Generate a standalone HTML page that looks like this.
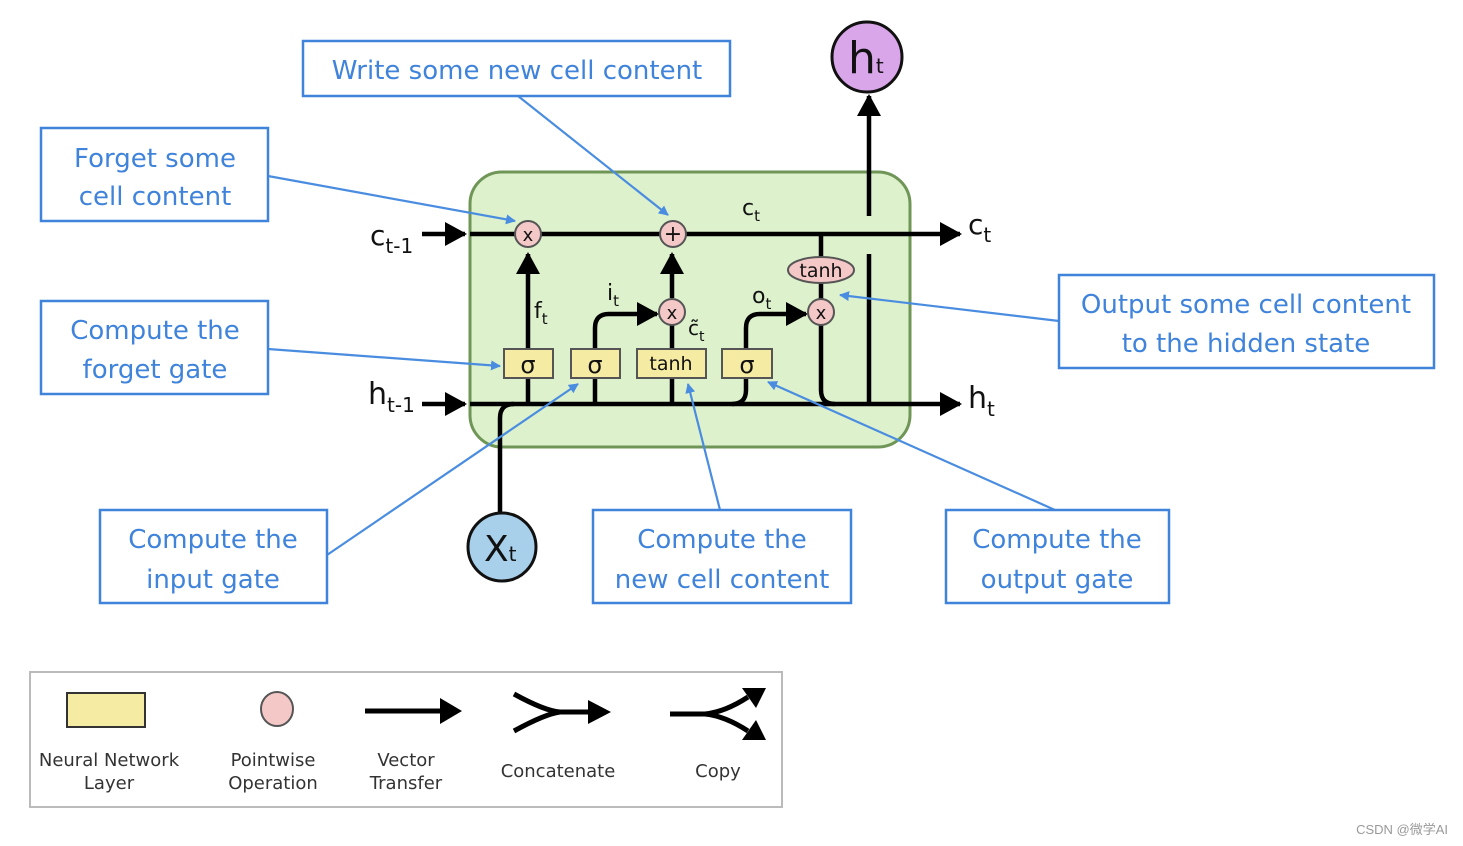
<!DOCTYPE html>
<html><head><meta charset="utf-8"><style>
html,body{margin:0;padding:0;background:#fff;}
svg{display:block;}
.cb{fill:#fff;stroke:#3f83db;stroke-width:2.5;}
.ct{fill:#3f83db;font-family:"DejaVu Sans","Liberation Sans",sans-serif;font-size:26px;text-anchor:middle;}
.bl{stroke:#4a8de0;stroke-width:2.2;fill:none;}
.k{stroke:#000;stroke-width:4.5;fill:none;}
.lay{fill:#f6eba2;stroke:#555;stroke-width:2;}
.pw{fill:#f5c8c8;stroke:#555;stroke-width:2;}
.t{font-family:"DejaVu Sans","Liberation Sans",sans-serif;fill:#111;}
.lg{font-family:"DejaVu Sans","Liberation Sans",sans-serif;fill:#333;font-size:18px;text-anchor:middle;}
</style></head><body>
<svg width="1463" height="846" viewBox="0 0 1463 846" xmlns="http://www.w3.org/2000/svg">
<defs>
<marker id="a" markerWidth="22" markerHeight="24" refX="20" refY="12" orient="auto" markerUnits="userSpaceOnUse"><path d="M0,0 L22,12 L0,24 z" fill="#000"/></marker>
<marker id="b" markerWidth="10" markerHeight="10" refX="9" refY="5" orient="auto" markerUnits="userSpaceOnUse"><path d="M0,0 L10,5 L0,10 z" fill="#4a8de0"/></marker>
</defs>
<!-- cell -->
<rect x="470" y="172" width="440" height="275" rx="32" fill="#ddf1cd" stroke="#6f9656" stroke-width="3"/>
<!-- c line -->
<line x1="470" y1="234" x2="960" y2="234" class="k" marker-end="url(#a)"/>
<line x1="422" y1="234" x2="465" y2="234" class="k" marker-end="url(#a)"/>
<!-- h line -->
<path d="M470,404 L960,404" class="k" marker-end="url(#a)"/>
<line x1="422" y1="404" x2="465" y2="404" class="k" marker-end="url(#a)"/>
<!-- x_t -->
<path d="M500,513 L500,418 Q500,404 514,404" class="k"/>
<!-- forget -->
<line x1="528" y1="404" x2="528" y2="254" class="k" marker-end="url(#a)"/>
<!-- input -->
<path d="M595,404 L595,328 Q595,314 609,314 L657,314" class="k" marker-end="url(#a)"/>
<line x1="672" y1="404" x2="672" y2="325" class="k"/>
<line x1="672" y1="298" x2="672" y2="254" class="k" marker-end="url(#a)"/>
<!-- output -->
<path d="M732,404 Q746,404 746,390 L746,328 Q746,314 760,314 L806,314" class="k" marker-end="url(#a)"/>
<line x1="821" y1="234" x2="821" y2="258" class="k"/>
<line x1="821" y1="283" x2="821" y2="300" class="k"/>
<path d="M821,325 L821,390 Q821,404 835,404" class="k"/>
<!-- h up -->
<line x1="869" y1="404" x2="869" y2="254" class="k"/>
<line x1="869" y1="216" x2="869" y2="96" class="k" marker-end="url(#a)"/>
<!-- layers -->
<rect x="504" y="349" width="49" height="29" class="lay"/>
<rect x="571" y="349" width="49" height="29" class="lay"/>
<rect x="637" y="349" width="69" height="29" class="lay"/>
<rect x="722" y="349" width="50" height="29" class="lay"/>
<text x="528" y="373" class="t" font-size="24" text-anchor="middle">σ</text>
<text x="595" y="373" class="t" font-size="24" text-anchor="middle">σ</text>
<text x="671" y="370" class="t" font-size="19" text-anchor="middle">tanh</text>
<text x="747" y="373" class="t" font-size="24" text-anchor="middle">σ</text>
<!-- pointwise -->
<circle cx="528" cy="234" r="13" class="pw"/><text x="528" y="241" class="t" font-size="18" text-anchor="middle">x</text>
<circle cx="673" cy="234" r="13" class="pw"/><text x="673" y="241" class="t" font-size="22" text-anchor="middle">+</text>
<circle cx="672" cy="312" r="13" class="pw"/><text x="672" y="319" class="t" font-size="18" text-anchor="middle">x</text>
<circle cx="821" cy="312" r="13" class="pw"/><text x="821" y="319" class="t" font-size="18" text-anchor="middle">x</text>
<ellipse cx="821" cy="270" rx="33" ry="13" class="pw"/><text x="821" y="277" class="t" font-size="19" text-anchor="middle">tanh</text>
<!-- labels -->
<text x="370" y="245" class="t" font-size="28">c<tspan font-size="20" dy="8">t-1</tspan></text>
<text x="368" y="404" class="t" font-size="30">h<tspan font-size="20" dy="8">t-1</tspan></text>
<text x="968" y="234" class="t" font-size="28">c<tspan font-size="20" dy="8">t</tspan></text>
<text x="968" y="408" class="t" font-size="30">h<tspan font-size="20" dy="8">t</tspan></text>
<text x="742" y="215" class="t" font-size="22">c<tspan font-size="15" dy="6">t</tspan></text>
<text x="534" y="318" class="t" font-size="22">f<tspan font-size="15" dy="6">t</tspan></text>
<text x="607" y="300" class="t" font-size="22">i<tspan font-size="15" dy="6">t</tspan></text>
<text x="752" y="303" class="t" font-size="22">o<tspan font-size="15" dy="6">t</tspan></text>
<text x="688" y="335" class="t" font-size="20">c̃<tspan font-size="14" dy="6">t</tspan></text>
<!-- circles -->
<circle cx="867" cy="57" r="35" fill="#d9a6ea" stroke="#111" stroke-width="3"/>
<text x="848" y="73" class="t" font-size="44">h<tspan font-size="20">t</tspan></text>
<circle cx="502" cy="547" r="34" fill="#a8d0eb" stroke="#111" stroke-width="3"/>
<text x="484" y="561" class="t" font-size="36">X<tspan font-size="20">t</tspan></text>
<!-- blue connectors -->
<line x1="518" y1="96" x2="668" y2="215" class="bl" marker-end="url(#b)"/>
<line x1="268" y1="176" x2="515" y2="221" class="bl" marker-end="url(#b)"/>
<line x1="268" y1="349" x2="500" y2="366" class="bl" marker-end="url(#b)"/>
<line x1="327" y1="555" x2="578" y2="384" class="bl" marker-end="url(#b)"/>
<line x1="720" y1="510" x2="688" y2="384" class="bl" marker-end="url(#b)"/>
<line x1="1055" y1="510" x2="768" y2="382" class="bl" marker-end="url(#b)"/>
<line x1="1059" y1="321" x2="840" y2="295" class="bl" marker-end="url(#b)"/>
<!-- callouts -->
<rect x="303" y="41" width="427" height="55" class="cb"/><text x="517" y="79" class="ct">Write some new cell content</text>
<rect x="41" y="128" width="227" height="93" class="cb"/><text x="155" y="167" class="ct">Forget some</text><text x="155" y="205" class="ct">cell content</text>
<rect x="41" y="301" width="227" height="93" class="cb"/><text x="155" y="339" class="ct">Compute the</text><text x="155" y="378" class="ct">forget gate</text>
<rect x="100" y="510" width="227" height="93" class="cb"/><text x="213" y="548" class="ct">Compute the</text><text x="213" y="588" class="ct">input gate</text>
<rect x="593" y="510" width="258" height="93" class="cb"/><text x="722" y="548" class="ct">Compute the</text><text x="722" y="588" class="ct">new cell content</text>
<rect x="946" y="510" width="223" height="93" class="cb"/><text x="1057" y="548" class="ct">Compute the</text><text x="1057" y="588" class="ct">output gate</text>
<rect x="1059" y="275" width="375" height="93" class="cb"/><text x="1246" y="313" class="ct">Output some cell content</text><text x="1246" y="352" class="ct">to the hidden state</text>
<!-- legend -->
<rect x="30" y="672" width="752" height="135" fill="#fff" stroke="#bbb" stroke-width="2"/>
<rect x="67" y="693" width="78" height="34" fill="#f6eba2" stroke="#333" stroke-width="2"/>
<ellipse cx="277" cy="709" rx="16" ry="17" fill="#f5c8c8" stroke="#555" stroke-width="2"/>
<line x1="365" y1="711" x2="445" y2="711" stroke="#000" stroke-width="5"/>
<path d="M440,698 L462,711 L440,724 z" fill="#000"/>
<path d="M514,694 Q545,711 560,712 M514,731 Q545,714 560,712 M555,712 L592,712" stroke="#000" stroke-width="5" fill="none"/>
<path d="M588,700 L611,712 L588,724 z" fill="#000"/>
<path d="M670,714 L705,714 Q725,712 748,697 M705,714 Q725,716 748,731" stroke="#000" stroke-width="5" fill="none"/>
<path d="M742,688 L766,688 L756,708 z" fill="#000"/>
<path d="M742,740 L766,740 L756,720 z" fill="#000"/>
<text x="109" y="766" class="lg">Neural Network</text><text x="109" y="789" class="lg">Layer</text>
<text x="273" y="766" class="lg">Pointwise</text><text x="273" y="789" class="lg">Operation</text>
<text x="406" y="766" class="lg">Vector</text><text x="406" y="789" class="lg">Transfer</text>
<text x="558" y="777" class="lg">Concatenate</text>
<text x="718" y="777" class="lg">Copy</text>
<text x="1448" y="834" font-family="'Liberation Sans','Noto Sans CJK SC',sans-serif" font-size="13" fill="#999" text-anchor="end">CSDN @微学AI</text>
</svg>
</body></html>
